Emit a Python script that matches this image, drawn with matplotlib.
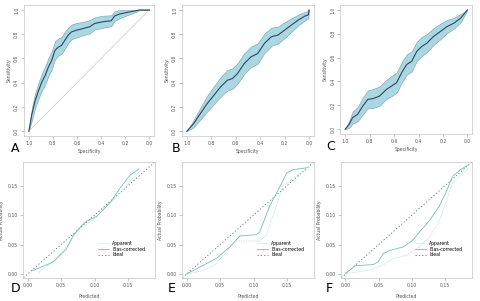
import matplotlib
matplotlib.use("Agg")
import matplotlib.pyplot as plt
import numpy as np

# ROC data: false positive rate, sensitivity, half width of the CI band
fpr_a = [0, .025, .052, .080, .107, .135, .162, .190, .217, .245, .272, .299, .327,
         .354, .396, .451, .505, .547, .615, .684, .712, .753, .808, .890, .918, 1.0]
sens_a = [0, .139, .25, .333, .403, .458, .528, .583, .667, .694, .708, .75, .792,
          .819, .833, .847, .861, .889, .903, .911, .95, .967, .978, .994, 1.0, 1.0]
hw_a = [0, .05, .06, .065, .07, .075, .075, .075, .075, .07, .07, .07, .065,
        .06, .06, .055, .055, .05, .05, .045, .04, .035, .025, .01, 0, 0]

fpr_b = [0, .055, .110, .166, .221, .276, .331, .373, .414, .470, .525, .580, .635,
         .691, .746, .801, .856, .912, .967, .994, 1.0]
sens_b = [0, .061, .144, .227, .296, .365, .420, .434, .475, .558, .613, .641, .724,
          .779, .793, .834, .876, .917, .950, .959, 1.0]
hw_b = [0, .03, .05, .065, .075, .08, .085, .085, .085, .085, .085, .085, .08,
        .075, .07, .065, .055, .045, .035, .03, 0]

fpr_c = [0, .033, .061, .102, .144, .185, .227, .282, .337, .378, .420, .461, .503,
         .544, .586, .627, .669, .724, .779, .834, .890, .945, 1.0]
sens_c = [0, .042, .097, .125, .194, .25, .256, .278, .333, .361, .389, .472, .542,
          .569, .653, .694, .722, .778, .819, .861, .889, .931, 1.0]
hw_c = [0, .03, .05, .06, .07, .075, .08, .08, .08, .085, .085, .085, .085,
        .085, .08, .08, .075, .07, .065, .055, .045, .035, 0]

# calibration data: predicted vs actual probability
d_bias_x = [.007, .037, .0576, .0676, .080, .0879, .103, .123, .138, .153, .166]
d_bias_y = [.0056, .0197, .042, .0645, .0813, .0897, .098, .121, .146, .168, .178]
d_app_x = [.017, .042, .0626, .075, .088, .103, .118, .138, .158, .169]
d_app_y = [.003, .025, .053, .0758, .084, .097, .115, .1375, .163, .177]

e_bias_x = [0, .0448, .0646, .0796, .104, .109, .124, .142, .149, .159, .179]
e_bias_y = [0, .0267, .046, .0645, .0667, .071, .1155, .154, .171, .177, .18]
e_app_x = [0, .02, .04, .055, .07, .077, .109, .119, .134, .144, .159, .179]
e_app_y = [0, .0045, .013, .032, .052, .056, .056, .066, .116, .149, .163, .177]

f_bias_x = [0, .0148, .042, .049, .057, .0668, .0865, .101, .111, .126, .141,
            .151, .161, .173, .185]
f_bias_y = [.001, .014, .016, .0207, .0346, .040, .0458, .0569, .0709, .090, .115,
            .138, .1656, .177, .185]
f_app_x = [.0025, .037, .057, .0717, .0915, .111, .126, .141, .151, .161, .185]
f_app_y = [.001, .0067, .016, .026, .0318, .0458, .0625, .090, .121, .1545, .18]

roc_ticks = [1.0, 0.8, 0.6, 0.4, 0.2, 0.0]
cal_ticks = [0.00, 0.05, 0.10, 0.15]

fig = plt.figure(figsize=(4.8, 3.01), dpi=100)

def style(ax):
    for s in ax.spines.values():
        s.set_color("#c4c4c4")
        s.set_linewidth(0.5)
    ax.tick_params(length=2, width=0.4, color="#999999", labelsize=3.3,
                   labelcolor="#555555", pad=1.5)

def roc_panel(rect, fpr, sens, hw, letter, dx):
    ax = fig.add_axes(rect)
    fpr = np.array(fpr)
    sens = np.array(sens)
    hw = np.array(hw)
    spec = 1 - fpr
    ax.plot([1, 0], [0, 1], color="#c8c8c8", lw=0.5)
    ax.fill_between(spec, np.clip(sens - hw, 0, 1), np.clip(sens + hw, 0, 1),
                    facecolor="#aad7e4", edgecolor="#6f9fae", lw=0.4)
    ax.plot(spec, sens, color="#2c4a58", lw=0.8)
    ax.set_xlim(1.04, -0.04)
    ax.set_ylim(-0.04, 1.04)
    ax.set_xticks(roc_ticks)
    ax.set_yticks(roc_ticks[::-1])
    ax.set_xticklabels(["%.1f" % t for t in roc_ticks])
    ax.set_yticklabels(["%.1f" % t for t in roc_ticks[::-1]], rotation=90, va="center")
    ax.set_xlabel("Specificity", fontsize=3.3, color="#555555", labelpad=2)
    ax.set_ylabel("Sensitivity", fontsize=3.3, color="#555555", labelpad=2)
    style(ax)
    fig.text(rect[0] + dx, rect[1] - 0.02, letter, fontsize=9, ha="left", va="top")
    return ax

def cal_panel(rect, bx, by, ax_, ay, letter, dx):
    ax = fig.add_axes(rect)
    ax.plot([-0.01, 0.2], [-0.01, 0.2], color="#4f7778", lw=0.6, ls=(0, (1.5, 2.5)),
            label="Ideal")
    ax.plot(ax_, ay, color="#b5dcdc", lw=0.6, ls=(0, (1, 1)), label="Apparent")
    ax.plot(bx, by, color="#79bcbc", lw=0.6, label="Bias-corrected")
    h, l = ax.get_legend_handles_labels()
    ax.legend([h[1], h[2], h[0]], [l[1], l[2], l[0]], loc="lower right",
              bbox_to_anchor=(0.95, 0.15), frameon=False, fontsize=3.3,
              handlelength=2.5, labelspacing=0.2, borderpad=0.2, handletextpad=0.6)
    ax.set_xlim(-0.007, 0.19)
    ax.set_ylim(-0.007, 0.19)
    ax.set_xticks(cal_ticks)
    ax.set_yticks(cal_ticks)
    ax.set_xticklabels(["%.2f" % t for t in cal_ticks])
    ax.set_yticklabels(["%.2f" % t for t in cal_ticks])
    ax.set_xlabel("Predicted", fontsize=3.3, color="#555555", labelpad=4)
    ax.set_ylabel("Actual Probability", fontsize=3.3, color="#555555", labelpad=3)
    style(ax)
    fig.text(rect[0] + dx, rect[1] - 0.012, letter, fontsize=9, ha="left", va="top")
    return ax

roc_panel([0.050, 0.548, 0.271, 0.435], fpr_a, sens_a, hw_a, "A", -0.027)
roc_panel([0.379, 0.548, 0.275, 0.435], fpr_b, sens_b, hw_b, "B", -0.022)
roc_panel([0.709, 0.555, 0.275, 0.428], fpr_c, sens_c, hw_c, "C", -0.029)

cal_panel([0.048, 0.076, 0.275, 0.386], d_bias_x, d_bias_y, d_app_x, d_app_y, "D", -0.025)
cal_panel([0.379, 0.076, 0.275, 0.386], e_bias_x, e_bias_y, e_app_x, e_app_y, "E", -0.029)
cal_panel([0.710, 0.076, 0.273, 0.386], f_bias_x, f_bias_y, f_app_x, f_app_y, "F", -0.031)

fig.savefig("out.png", dpi=100)
